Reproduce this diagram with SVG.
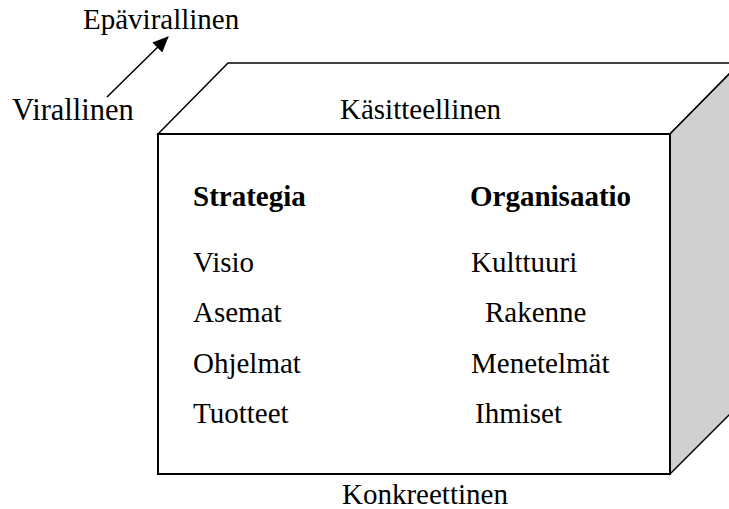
<svg xmlns="http://www.w3.org/2000/svg" width="729" height="509" viewBox="0 0 729 509">
<style>
text{font-family:"Liberation Serif","Times New Roman",serif;fill:#000;font-size:29px}
.b{font-weight:bold}
.edge{stroke:#000;stroke-width:1.5;fill:none}
</style>
<defs>
<marker id="ah" markerWidth="16" markerHeight="14" refX="15" refY="7" orient="auto" markerUnits="userSpaceOnUse" viewBox="0 0 16 14">
<path d="M0,0 L16,7 L0,14 z" fill="#000"/>
</marker>
</defs>
<rect width="729" height="509" fill="#fff"/>
<g id="cube">
<polygon points="158,134 228,63 740,63 670,134" fill="#fff" stroke="#000" stroke-width="1.5"/>
<polygon points="670,134 740,63 740,404 670,474" fill="#d0d0d0" stroke="#000" stroke-width="1.5"/>
<rect x="158" y="134" width="512" height="340" fill="#fff" stroke="#000" stroke-width="2"/>
</g>
<g id="connectors">
<line class="edge" x1="107" y1="97" x2="168" y2="37" marker-end="url(#ah)"/>
</g>
<g id="labels">
<text x="83" y="29">Epävirallinen</text>
<text x="12" y="120" style="font-size:30.5px">Virallinen</text>
<text x="340" y="119">Käsitteellinen</text>
<text x="342" y="504">Konkreettinen</text>
</g>
<g id="strategia">
<text class="b" x="193" y="206">Strategia</text>
<text x="193" y="272">Visio</text>
<text x="193" y="322">Asemat</text>
<text x="193" y="373">Ohjelmat</text>
<text x="193" y="423">Tuotteet</text>
</g>
<g id="organisaatio">
<text class="b" x="470" y="206">Organisaatio</text>
<text x="471" y="272">Kulttuuri</text>
<text x="485" y="322">Rakenne</text>
<text x="471" y="373">Menetelmät</text>
<text x="475" y="423">Ihmiset</text>
</g>
</svg>
